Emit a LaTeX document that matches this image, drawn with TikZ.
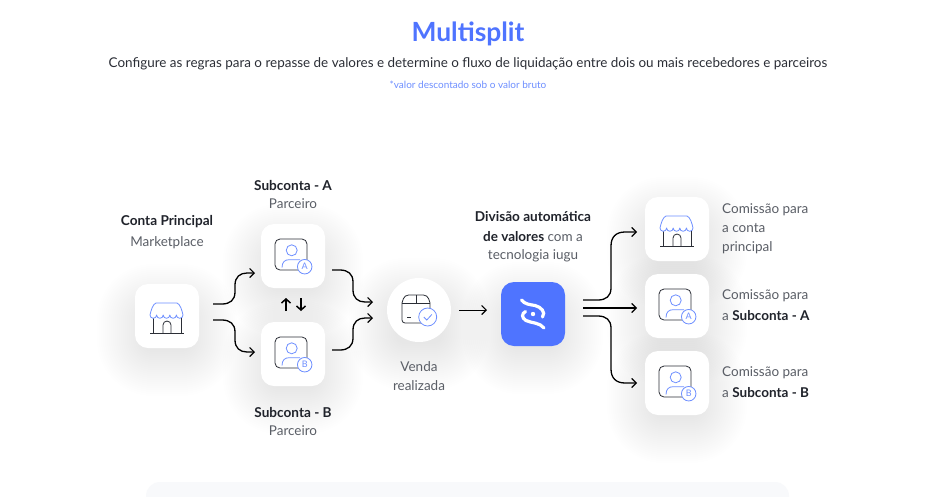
\documentclass[tikz,border=0pt]{standalone}
\usepackage{fontspec}
\setmainfont{Lato}
\usetikzlibrary{arrows.meta}
\definecolor{iublue}{HTML}{4F74FF}
\definecolor{iuline}{HTML}{6E8FFF}
\definecolor{iudark}{HTML}{2B2E36}
\definecolor{iugray}{HTML}{5A5E66}
\definecolor{iuhead}{HTML}{20232B}
\definecolor{iupanel}{HTML}{F8F9FB}
\tikzset{
  card/.style={fill=white,rounded corners=13pt,minimum width=64pt,minimum height=64pt,inner sep=0pt,outer sep=0pt},
  disc/.style={fill=white,circle,minimum size=64pt,inner sep=0pt,outer sep=0pt},
  bluecard/.style={fill=iublue,rounded corners=13pt,minimum width=64pt,minimum height=64pt,inner sep=0pt,outer sep=0pt},
  flow/.style={draw=black,line width=1.3pt,-{Straight Barb[length=4.5pt,width=9pt,line width=1.2pt]}},
  swap/.style={draw=black,line width=1.6pt,-{Straight Barb[length=4pt,width=9pt,line width=1.5pt]}},
  head/.style={font=\fontsize{13.6}{15}\selectfont\bfseries,text=iuhead,inner sep=0pt},
  body/.style={font=\fontsize{13.5}{15}\selectfont,text=iugray,inner sep=0pt},
  lbl/.style={font=\fontsize{13.5}{15}\selectfont,text=iugray,inner sep=0pt,anchor=west},
  dk/.style={draw=iudark,line width=.8pt},
  bl/.style={draw=iuline,line width=.8pt},
  badge/.style={circle,draw=iuline,line width=.8pt,fill=white,minimum size=14.5pt,inner sep=0pt,text=iuline,font=\fontsize{9}{9}\selectfont},
}
% soft shadow below a card: centre x, centre y
\newcommand{\softsh}[2]{%
  \foreach \r in {46,44,...,0}{%
    \fill[black,opacity=0.0042,rounded corners={10pt+\r*1pt}]
      (#1-24-\r,#2-6-\r) rectangle (#1+24+\r,#2+34+\r);
  }}
\newcommand{\storeicon}[1]{%
  \begin{scope}[shift={(#1)}]
    \draw[dk] (-14,0) -- (-14,17) (14,0) -- (14,17);
    \draw[dk] (-17,17) -- (16.5,17);
    \draw[dk] (-4,17) -- (-4,9) arc[start angle=180,end angle=360,radius=4] -- (4,17);
    \draw[bl,fill=white,line join=round] (-17,-1) .. controls (-16,-6) and (-14,-12) .. (-11,-13) -- (10,-13)
      .. controls (13,-12) and (15,-6) .. (16,-1)
      arc[start angle=0,end angle=180,radius=3.3] arc[start angle=0,end angle=180,radius=3.3]
      arc[start angle=0,end angle=180,radius=3.3] arc[start angle=0,end angle=180,radius=3.3]
      arc[start angle=0,end angle=180,radius=3.3] -- cycle;
  \end{scope}}
% person icon: card centre, badge node name, badge letter
\newcommand{\personicon}[3]{%
  \begin{scope}[shift={(#1)}]
    \draw[dk,rounded corners=5pt] (-18,-17) rectangle (14,14);
    \draw[bl] (-1.3,-5.7) circle[radius=5.5pt];
    \draw[bl] (-11,11.5) .. controls (-11,6) and (-8,3.7) .. (-4,3.7) -- (7,3.7);
    \node[badge] (#2) at (11.7,10.7) {#3};
  \end{scope}}
\begin{document}
\begin{tikzpicture}[x=1pt,y=-1pt]
\useasboundingbox (0,0) rectangle (934,496);
\fill[white] (0,0) rectangle (934,496);
% bottom panel
\begin{scope}
  \clip (0,0) rectangle (934,496);
  \fill[iupanel,rounded corners=14pt] (146,482) rectangle (789,540);
\end{scope}
% title block
\node[font=\fontsize{26.4}{28}\selectfont\bfseries,text=iublue,inner sep=0pt] (title) at (468,33.5) {Multisplit};
\node[font=\fontsize{13.45}{15}\selectfont,text=iudark,inner sep=0pt] (sub) at (468,64) {Configure as regras para o repasse de valores e determine o fluxo de liquidação entre dois ou mais recebedores e parceiros};
\node[font=\fontsize{10}{11}\selectfont,text=iuline,inner sep=0pt] (note) at (468,85) {*valor descontado sob o valor bruto};
% shadows
\softsh{167}{316}
\softsh{293}{256}
\softsh{293}{354}
\softsh{419}{310}
\softsh{533}{314}
\softsh{677}{229}
\softsh{677}{306}
\softsh{677}{383}
% cards
\node[card] (main) at (167,316) {};
\node[card] (suba) at (293,256) {};
\node[card] (subb) at (293,354) {};
\node[disc] (sale) at (419,310) {};
\node[bluecard] (split) at (533,314) {};
\node[card] (outm) at (677,229) {};
\node[card] (outa) at (677,306) {};
\node[card] (outb) at (677,383) {};
% icons
\storeicon{167,316}
\storeicon{677,229}
\personicon{293,256}{ba1}{A}
\personicon{293,354}{bb1}{B}
\personicon{677,306}{ba2}{A}
\personicon{677,383}{bb2}{B}
% parcel icon
\begin{scope}[shift={(419,310)}]
  \draw[dk,rounded corners=3pt] (-17,-7) -- (-17,13) -- (11,13) -- (11,-7);
  \draw[dk,rounded corners=4pt] (-17,-7) -- (-14.5,-15) -- (8.5,-15) -- (11,-7);
  \draw[dk] (-17,-7) -- (11,-7) (-3,-15) -- (-3,-7);
  \draw[dk] (-11.6,7) -- (-8,7);
  \draw[bl,fill=white] (8.7,7) circle[radius=9pt];
  \draw[bl] (4.8,7) -- (7.8,10) -- (12.8,4.5);
\end{scope}
% iugu logo
\begin{scope}[shift={(533,314)}]
  \draw[white,line width=3.2pt,line cap=round] (-11.5,-14) .. controls (-8,-9.5) and (-3,-9.5) .. (2,-8.5) .. controls (8,-7) and (13,-2) .. (9.5,3);
  \draw[white,line width=3.2pt,line cap=round] (-7.5,-2.5) .. controls (-11.5,-0.5) and (-11.5,4) .. (-7,6.5) .. controls (-2,9) and (7,8.5) .. (11,14);
  \fill[white] (0,0) circle[radius=2.2pt];
\end{scope}
% labels
\node[head] (lmain) at (167,222) {Conta Principal};
\node[body] (lmain2) at (167,242.5) {Marketplace};
\node[head] (la) at (293,185) {Subconta - A};
\node[body] (la2) at (293,204) {Parceiro};
\node[head] (lb) at (293,412) {Subconta - B};
\node[body] (lb2) at (293,431) {Parceiro};
\node[body] (ls1) at (419,367) {Venda};
\node[body] (ls2) at (419,386) {realizada};
\node[head] (ld1) at (533,216) {Divisão automática};
\node[body] (ld2) at (533,236.5) {\textcolor{iuhead}{\bfseries de valores} com a};
\node[body] (ld3) at (533,256) {tecnologia iugu};
\node[lbl] (r11) at (722,209.5) {Comissão para};
\node[lbl] (r12) at (722,228.5) {a conta};
\node[lbl] (r13) at (722,248) {principal};
\node[lbl] (r21) at (722,296) {Comissão para};
\node[lbl] (r22) at (722,315.5) {a \textcolor{iuhead}{\bfseries Subconta - A}};
\node[lbl] (r31) at (722,372.5) {Comissão para};
\node[lbl] (r32) at (722,392.5) {a \textcolor{iuhead}{\bfseries Subconta - B}};
% connector ends
\coordinate (m1) at (213,304); \coordinate (m1e) at (255,273);
\coordinate (m2) at (213,320); \coordinate (m2e) at (255,352);
\coordinate (a1) at (332,270); \coordinate (a1e) at (373,302);
\coordinate (b1) at (332,350); \coordinate (b1e) at (373,318);
\coordinate (s1) at (459,310); \coordinate (s1e) at (487,310);
\coordinate (d1) at (583,300); \coordinate (d1e) at (637,232);
\coordinate (d2) at (583,308); \coordinate (d2e) at (637,308);
\coordinate (d3) at (583,316); \coordinate (d3e) at (637,383);
\coordinate (u1) at (286,311); \coordinate (u1e) at (286,298);
\coordinate (v1) at (301,298); \coordinate (v1e) at (301,311);
% connectors
\draw[flow] (m1) -- (222,304) .. controls (230,304) and (235,300) .. (235,292) -- (235,285) .. controls (235,277) and (240,273) .. (247,273) -- (m1e);
\draw[flow] (m2) -- (222,320) .. controls (230,320) and (235,324) .. (235,332) -- (235,340) .. controls (235,348) and (240,352) .. (247,352) -- (m2e);
\draw[flow] (a1) -- (340,270) .. controls (348,270) and (353,274) .. (353,282) -- (353,290) .. controls (353,298) and (358,302) .. (365,302) -- (a1e);
\draw[flow] (b1) -- (340,350) .. controls (348,350) and (353,346) .. (353,338) -- (353,330) .. controls (353,322) and (358,318) .. (365,318) -- (b1e);
\draw[flow,line width=1pt] (s1) -- (s1e);
\draw[flow] (d1) -- (598,300) .. controls (606,300) and (611,296) .. (611,288) -- (611,246) .. controls (611,237) and (616,232) .. (625,232) -- (d1e);
\draw[flow] (d2) -- (d2e);
\draw[flow] (d3) -- (598,316) .. controls (606,316) and (611,320) .. (611,328) -- (611,369) .. controls (611,378) and (616,383) .. (625,383) -- (d3e);
\draw[swap] (u1) -- (u1e);
\draw[swap] (v1) -- (v1e);
\end{tikzpicture}
\end{document}
